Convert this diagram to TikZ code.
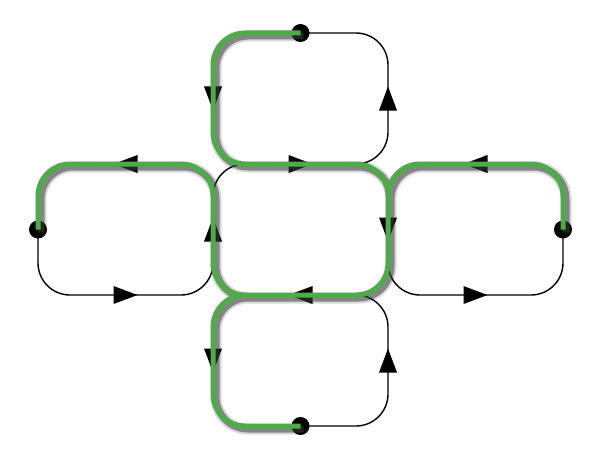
\documentclass[tikz,border=0pt]{standalone}
\usetikzlibrary{calc,decorations.markings}
\definecolor{routegreen}{RGB}{76,172,72}

\begin{document}
\begin{tikzpicture}[x=1pt, y=-1pt,
    loop/.style={draw, line width=1.4pt, rounded corners=32pt},
    flow/.style={postaction={decorate}, decoration={markings,
        mark=at position 0.5 with {\fill (-12pt,-9pt) -- (12pt,0pt) -- (-12pt,9pt) -- cycle;}}},
    dot/.style={circle, fill, minimum size=18pt, inner sep=0pt},
    route/.style={draw=routegreen, line width=5pt, rounded corners=32pt},
    routeblur/.style={draw=black, line width=11pt, opacity=.15, rounded corners=32pt,
        transform canvas={shift={(3pt,-3pt)}}},
    routeshadow/.style={draw=black!75, line width=7pt, opacity=.55, rounded corners=32pt,
        transform canvas={shift={(3pt,-3pt)}}}
    ]
    \useasboundingbox (0,0) rectangle (600,460);

    % Grid corners
    \foreach \col/\x in {a/38,b/213,c/388,d/563}
        \foreach \row/\y in {1/33,2/164,3/295,4/426}
            \coordinate (\col\row) at (\x,\y);

    % Loops
    \foreach \from/\to in {b1/c2,a2/b3,b2/c3,c2/d3,b3/c4}
        \draw[loop] (\from) rectangle (\to);

    % Direction marks
    \foreach \from/\to in {b1/b2,c2/c1,b2/c2,b2/a2,a3/b3,b3/b2,d2/c2,c3/d3,c2/c3,c3/b3,b3/b4,c4/c3}
        \path[flow] (\from) -- (\to);

    % End points
    \node[dot] (tdot) at ($(b1)!.5!(c1)$) {};
    \node[dot] (bdot) at ($(b4)!.5!(c4)$) {};
    \node[dot] (ldot) at ($(a2)!.5!(a3)$) {};
    \node[dot] (rdot) at ($(d2)!.5!(d3)$) {};

    % Green route with its shadow
    \foreach \layer in {routeblur,routeshadow,route}
        \draw[\layer] (ldot.center) -- (a2) -- (b2) -- (b3) -- (c3) -- (c2) -- (b2) -- (b1) -- (tdot.center)
            (rdot.center) -- (d2) -- (c2) -- ($(c2)!.6!(c3)$)
            (bdot.center) -- (b4) -- (b3) -- ($(b3)!.5!(c3)$);
\end{tikzpicture}
\end{document}
